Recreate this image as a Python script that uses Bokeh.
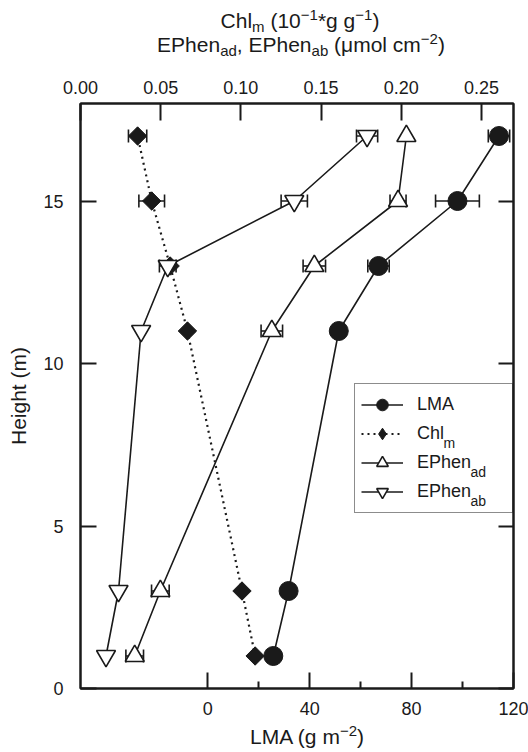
import math
from bokeh.plotting import figure
from bokeh.models import (Range1d, LinearAxis, FixedTicker, PrintfTickFormatter, Whisker,
                          TeeHead, ColumnDataSource, Legend, LegendItem, Div)
from bokeh.core.properties import value
from bokeh.layouts import column
from bokeh.embed import file_html
from bokeh.resources import INLINE

# ---------------- data ----------------
heights = [1, 3, 11, 13, 15, 17]
lma = [25.7, 31.7, 51.4, 67.0, 98.0, 114.3]
lma_err = [0, 0, 0, 4.2, 8.6, 4.2]
chl = [0.1089, 0.1007, 0.0667, 0.0559, 0.0444, 0.0356]
chl_err = [0, 0, 0, 0, 0.008, 0.0057]
ephen_ad = [0.0338, 0.0498, 0.1193, 0.1458, 0.1980, 0.2032]
ephen_ad_err = [0.0055, 0.0055, 0.0067, 0.007, 0.005, 0]
ephen_ab = [0.0159, 0.0237, 0.0378, 0.0544, 0.1333, 0.1787]
ephen_ab_err = [0, 0, 0, 0.0052, 0.0082, 0.0066]

lma_ticks = [0, 40, 80, 120]
lma_minor_ticks = [20, 60, 100]
top_ticks = [0.0, 0.05, 0.10, 0.15, 0.20, 0.25]
height_ticks = [0, 5, 10, 15]

legend_labels = ["LMA", "Chl", "EPhen", "EPhen"]
legend_subs = ["", "m", "ad", "ab"]

# ---------------- layout / style ----------------
FONT = "Liberation Sans"
INK = "#1a1a1a"
W, H = 528, 752
TOP_DIV_H, BOT_DIV_H = 60, 28
FIG_H = H - TOP_DIV_H - BOT_DIV_H
FL, FR, FT, FB = 80, 513, 103, 688          # frame edges in page pixels
LMA_RANGE = (-50, 120)

ADV = {'A': 667, 'C': 722, 'E': 667, 'H': 722, 'L': 556, 'M': 833, 'P': 667,
       'a': 556, 'b': 556, 'c': 500, 'd': 556, 'e': 556, 'g': 556, 'h': 556,
       'i': 222, 'l': 222, 'm': 833, 'n': 556, 'o': 556, 't': 278, ' ': 278}


def tw(s, size):
    return sum(ADV.get(c, 556) for c in s) * size / 1000.0


p = figure(width=W, height=FIG_H, output_backend="svg", toolbar_location=None,
           x_range=Range1d(*LMA_RANGE), y_range=Range1d(0, 18),
           min_border_left=FL, min_border_right=W - FR,
           min_border_top=FT - TOP_DIV_H, min_border_bottom=TOP_DIV_H + FIG_H - FB)
p.extra_x_ranges = {"top": Range1d(0, 0.27)}
p.xgrid.visible = False
p.ygrid.visible = False
p.outline_line_color = INK
p.outline_line_width = 2
p.background_fill_color = "white"
p.border_fill_color = "white"


def style_axis(ax, tick_len, standoff, minor=False):
    ax.axis_line_color = INK
    ax.axis_line_width = 2
    ax.major_tick_line_color = INK
    ax.major_tick_line_width = 2
    ax.major_tick_in = tick_len
    ax.major_tick_out = 0
    if minor:
        ax.minor_tick_line_color = INK
        ax.minor_tick_line_width = 2
        ax.minor_tick_in = 7
        ax.minor_tick_out = 0
    else:
        ax.minor_tick_line_color = None
    ax.major_label_text_font = FONT
    ax.major_label_text_font_size = "18px"
    ax.major_label_text_color = INK
    ax.major_label_standoff = standoff


bottom = p.xaxis[0]
bottom.ticker = FixedTicker(ticks=lma_ticks, minor_ticks=lma_minor_ticks)
style_axis(bottom, 16, 13, minor=True)

left = p.yaxis[0]
left.ticker = FixedTicker(ticks=height_ticks, minor_ticks=[])
style_axis(left, 16, 17)
left.axis_label = "Height (m)"
left.axis_label_text_font = FONT
left.axis_label_text_font_size = "21px"
left.axis_label_text_font_style = "normal"
left.axis_label_text_color = INK
left.axis_label_standoff = 10

top = LinearAxis(x_range_name="top", ticker=FixedTicker(ticks=top_ticks, minor_ticks=[]),
                 formatter=PrintfTickFormatter(format="%.2f"))
style_axis(top, 17, 10)
p.add_layout(top, "above")

right = LinearAxis(ticker=FixedTicker(ticks=height_ticks, minor_ticks=[]),
                   major_label_overrides={t: "" for t in height_ticks})
style_axis(right, 15, 0)
p.add_layout(right, "right")


# ---------------- error bars ----------------
def add_whisker(xs, errs, rng):
    rows = [(h, x - e, x + e) for h, x, e in zip(heights, xs, errs) if e > 0]
    src = ColumnDataSource(dict(base=[r[0] for r in rows],
                                lower=[r[1] for r in rows],
                                upper=[r[2] for r in rows]))
    w = Whisker(source=src, base="base", lower="lower", upper="upper",
                dimension="width", line_color=INK, line_width=1.6, level="underlay",
                upper_head=TeeHead(size=13, line_color=INK, line_width=1.6),
                lower_head=TeeHead(size=13, line_color=INK, line_width=1.6),
                x_range_name=rng)
    p.add_layout(w)


add_whisker(lma, lma_err, "default")
add_whisker(chl, chl_err, "top")
add_whisker(ephen_ad, ephen_ad_err, "top")
add_whisker(ephen_ab, ephen_ab_err, "top")

# ---------------- lines ----------------
l_lma = p.line(lma, heights, line_color=INK, line_width=1.6)
l_chl = p.line(chl, heights, x_range_name="top", line_color=INK, line_width=2.2,
               line_dash="2 4")
l_ad = p.line(ephen_ad, heights, x_range_name="top", line_color=INK, line_width=1.6)
l_ab = p.line(ephen_ab, heights, x_range_name="top", line_color=INK, line_width=1.6)

# ---------------- markers ----------------
# narrow diamond (used for the legend key) sits hidden under the rotated squares
s_chl_key = p.scatter(chl, heights, x_range_name="top", marker="diamond", size=17,
                      fill_color=INK, line_color=INK)
s_chl = p.scatter(chl, heights, x_range_name="top", marker="square", angle=math.pi / 4,
                  size=13, fill_color=INK, line_color=INK, line_width=1)
s_ad = p.scatter(ephen_ad, heights, x_range_name="top", marker="triangle", size=19,
                 fill_color="white", line_color=INK, line_width=1.6)
s_ab = p.scatter(ephen_ab, heights, x_range_name="top", marker="inverted_triangle", size=19,
                 fill_color="white", line_color=INK, line_width=1.6)
s_lma = p.scatter(lma, heights, marker="circle", size=19, fill_color=INK, line_color=INK)

# ---------------- legend ----------------
LEG_LEFT, LEG_TOP = 354, 385
PAD, GW, GH, STAND, LW = 6, 42, 29, 14, 89
LEG_BOTTOM = LEG_TOP + 2 * PAD + 4 * GH
renderer_sets = [[l_lma, s_lma], [l_chl, s_chl_key], [l_ad, s_ad], [l_ab, s_ab]]
items = [LegendItem(label=lab, renderers=rs) for lab, rs in zip(legend_labels, renderer_sets)]
legend = Legend(items=items, location=(LEG_LEFT - FL, FB - LEG_BOTTOM),
                orientation="vertical", glyph_width=GW, glyph_height=GH, spacing=0,
                padding=PAD, margin=0, label_standoff=STAND, label_width=LW,
                label_text_font=FONT, label_text_font_size="18px", label_text_color=INK,
                border_line_color=INK, border_line_width=1.5,
                background_fill_color="white", background_fill_alpha=0.0)
p.add_layout(legend)

# subscripts of the legend labels (text glyphs anchored at the frame's bottom-left corner)
text_x0 = LEG_LEFT + PAD + GW + STAND
sub_rows = [(i, lab, sub) for i, (lab, sub) in enumerate(zip(legend_labels, legend_subs)) if sub]
p.text(x=[LMA_RANGE[0]] * len(sub_rows), y=[0] * len(sub_rows),
       text=[s for _, _, s in sub_rows],
       x_offset=[text_x0 + tw(lab, 18) - FL for _, lab, _ in sub_rows],
       y_offset=[(LEG_TOP + PAD + GH / 2 + i * GH + 8) - FB for i, _, _ in sub_rows],
       text_font=value(FONT), text_font_size=value("14px"), text_color=INK,
       text_align="left", text_baseline="alphabetic")

# ---------------- titles with sub/superscripts (HTML) ----------------
BASE = ("font-family:'Liberation Sans',Arial,sans-serif;font-size:21px;color:%s;"
        "white-space:nowrap;" % INK)
SUB = '<span style="font-size:15px;position:relative;top:4px;">%s</span>'
SUP = '<span style="font-size:15px;position:relative;top:-8px;">%s</span>'

top_html = (
    '<div style="%sline-height:22px;padding-top:10px;">' % BASE
    + '<div style="margin-left:72px;width:456px;text-align:center;">'
    + 'Chl' + SUB % 'm' + ' (10' + SUP % '\u22121' + '*g g' + SUP % '\u22121' + ')</div>'
    + '<div style="margin-left:74px;width:454px;text-align:center;">'
    + 'EPhen' + SUB % 'ad' + ', EPhen' + SUB % 'ab' + ' (\u03bcmol cm' + SUP % '\u22122'
    + ')</div></div>'
)
bottom_html = (
    '<div style="%sline-height:26px;margin-left:86px;width:442px;text-align:center;">' % BASE
    + 'LMA (g m' + SUP % '\u22122' + ')</div>'
)

top_div = Div(text=top_html, width=W, height=TOP_DIV_H, margin=0)
bottom_div = Div(text=bottom_html, width=W, height=BOT_DIV_H, margin=0)

layout = column(top_div, p, bottom_div, spacing=0, margin=0)
open("out.html", "w").write(file_html(layout, INLINE))
